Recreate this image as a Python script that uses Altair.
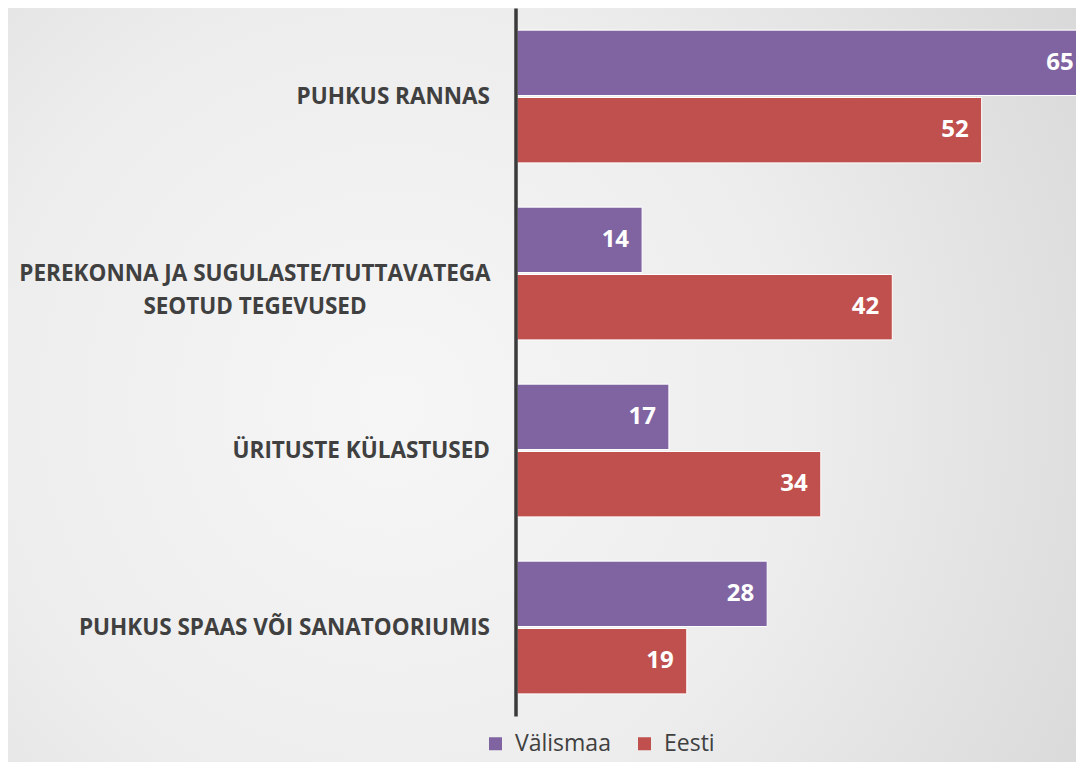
import altair as alt
import pandas as pd

categories = [
    "PUHKUS RANNAS",
    "PEREKONNA JA SUGULASTE/TUTTAVATEGA SEOTUD TEGEVUSED",
    "ÜRITUSTE KÜLASTUSED",
    "PUHKUS SPAAS VÕI SANATOORIUMIS",
]
label_lines = [
    ["PUHKUS RANNAS"],
    ["PEREKONNA JA SUGULASTE/TUTTAVATEGA", "SEOTUD TEGEVUSED"],
    ["ÜRITUSTE KÜLASTUSED"],
    ["PUHKUS SPAAS VÕI SANATOORIUMIS"],
]
series = ["Välismaa", "Eesti"]
valismaa = [65, 14, 17, 28]
eesti = [52, 42, 34, 19]
colors = ["#8064A2", "#C0504D"]

rows = []
for c, v in zip(categories, valismaa):
    rows.append({"cat": c, "series": "Välismaa", "value": v})
for c, v in zip(categories, eesti):
    rows.append({"cat": c, "series": "Eesti", "value": v})
df = pd.DataFrame(rows)

lab = pd.DataFrame({"cat": categories, "lines": label_lines,
                    "multi": [len(l) > 1 for l in label_lines]})

FONT = "Open Sans"
TXT = "#404040"
XMAX = 62.56
W, H = 559, 708
PADL, PADB = 509, 46

yscale = alt.Scale(domain=categories, paddingInner=0.25, paddingOuter=0.125)
xscale = alt.Scale(domain=[0, XMAX], nice=False, zero=True)

bg = alt.Chart(pd.DataFrame({"a": [0]})).mark_rect(
    fill=alt.Gradient(
        gradient="radial",
        stops=[
            alt.GradientStop(color="#f6f6f6", offset=0),
            alt.GradientStop(color="#ededed", offset=0.45),
            alt.GradientStop(color="#d3d3d3", offset=1),
        ],
        x1=0.36, y1=0.52, r1=0, x2=0.36, y2=0.52, r2=0.85,
    )
).encode(
    x=alt.value(-PADL), x2=alt.value(W), y=alt.value(0), y2=alt.value(H + PADB)
)

bars = alt.Chart(df).mark_bar(stroke="white", strokeWidth=1, clip=True).encode(
    y=alt.Y("cat:N", scale=yscale, sort=categories,
            axis=alt.Axis(labels=False, ticks=False, title=None, domain=True,
                          domainWidth=3.5, domainColor="#3a3a3a", offset=1.5,
                          grid=False, zindex=2)),
    yOffset=alt.YOffset("series:N", sort=series, scale=alt.Scale(paddingInner=0.03)),
    x=alt.X("value:Q", scale=xscale, axis=None),
    color=alt.Color("series:N", sort=series,
                    scale=alt.Scale(domain=series, range=colors),
                    legend=alt.Legend(title=None, orient="none", direction="horizontal",
                                      legendX=-33, legendY=724, symbolType="square",
                                      symbolSize=169, symbolStrokeWidth=0,
                                      labelFont=FONT, labelFontSize=23, labelColor=TXT,
                                      labelOffset=8, columnPadding=22, padding=0)),
)

vals = alt.Chart(df).transform_calculate(
    lx=f"min(datum.value, {XMAX} + 1.2)"
).mark_text(
    align="right", baseline="middle", dx=-13, font=FONT, fontSize=24,
    fontWeight="bold", color="white"
).encode(
    y=alt.Y("cat:N", sort=categories),
    yOffset=alt.YOffset("series:N", sort=series),
    x=alt.X("lx:Q"),
    text=alt.Text("value:Q"),
)

single = alt.Chart(lab).transform_filter("!datum.multi").mark_text(
    align="right", baseline="middle", font=FONT, fontSize=22.5, fontWeight="bold",
    color=TXT
).encode(
    y=alt.Y("cat:N", sort=categories),
    x=alt.value(-27),
    text=alt.Text("lines:N"),
)

multi = alt.Chart(lab).transform_filter("datum.multi").mark_text(
    align="center", baseline="middle", font=FONT, fontSize=22.5, fontWeight="bold",
    color=TXT, lineHeight=33
).encode(
    y=alt.Y("cat:N", sort=categories),
    x=alt.value(-262),
    text=alt.Text("lines:N"),
)

chart = alt.layer(bg, bars, vals, single, multi).properties(
    width=W, height=H,
    autosize=alt.AutoSizeParams(type="none"),
    padding={"left": PADL, "top": 0, "right": 0, "bottom": PADB},
    background="#e6e6e6",
).configure_view(stroke=None, fill=None)

chart.save("out.html", embed_options={"renderer": "svg", "actions": False})
